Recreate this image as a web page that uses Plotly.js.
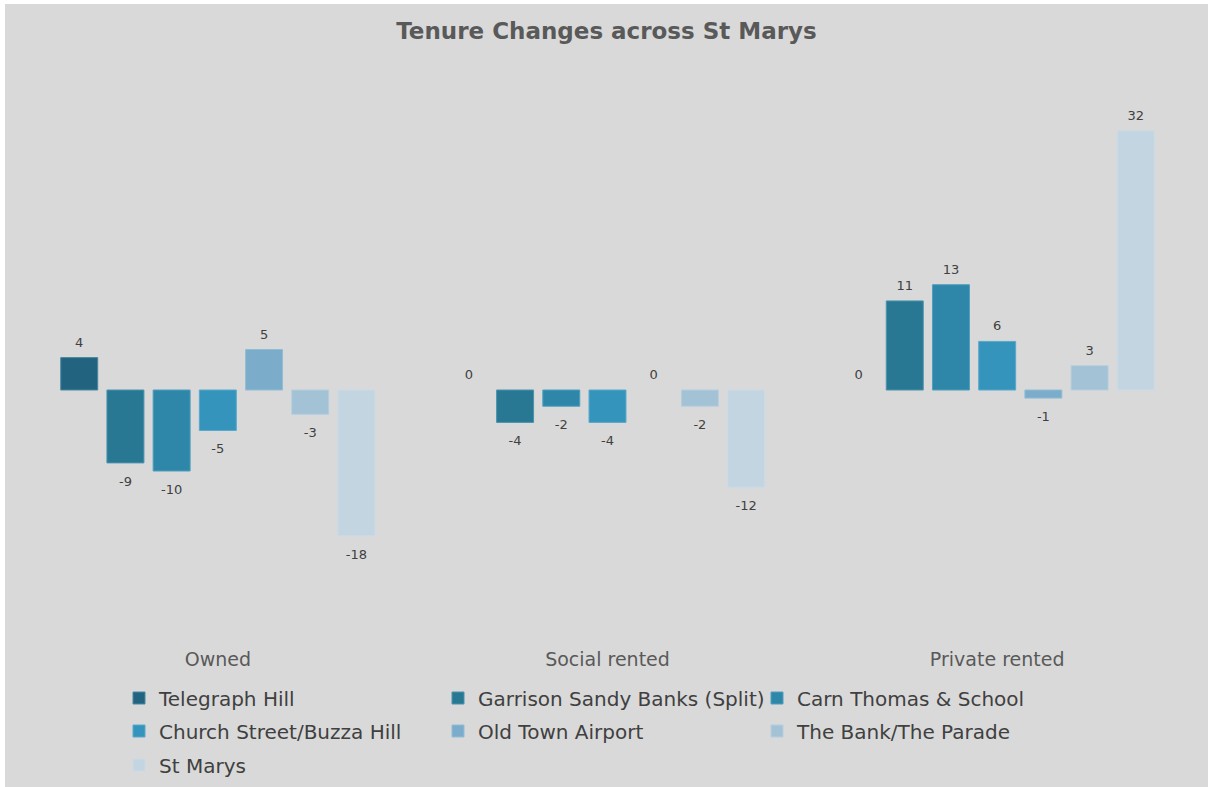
<!DOCTYPE html>
<html>
<head>
<meta charset="utf-8">
<script src="https://cdn.plot.ly/plotly-3.0.1.min.js"></script>
<style>
  html, body { margin: 0; padding: 0; background: #ffffff; }
  #chart { position: absolute; left: 5px; top: 4px; width: 1203px; height: 783px; }
</style>
</head>
<body>
<div id="chart"></div>
<script>
// Data
const categories = ["Owned", "Social rented", "Private rented"];
const seriesNames = [
  "Telegraph Hill",
  "Garrison Sandy Banks (Split)",
  "Carn Thomas & School",
  "Church Street/Buzza Hill",
  "Old Town Airport",
  "The Bank/The Parade",
  "St Marys"
];
const telegraphHill   = [4, 0, 0];
const garrisonSandy   = [-9, -4, 11];
const carnThomas      = [-10, -2, 13];
const churchStreet    = [-5, -4, 6];
const oldTownAirport  = [5, 0, -1];
const theBankParade   = [-3, -2, 3];
const stMarys         = [-18, -12, 32];
const seriesValues = [telegraphHill, garrisonSandy, carnThomas, churchStreet, oldTownAirport, theBankParade, stMarys];

// Styles
const colors = ["#22647F", "#287894", "#2E87A8", "#3594BC", "#7BADCB", "#A3C2D6", "#C3D5E1"];
const lineColors = ["#4A86A0", "#4B93AC", "#4F9FBE", "#5AA8CB", "#93BDD6", "#B5CFDF", "#CBDBE6"];
const font = "DejaVu Sans, Verdana, sans-serif";
const legendFor = i => (i < 3 ? "legend" : (i < 6 ? "legend2" : "legend3"));

const barTraces = seriesNames.map((name, i) => ({
  type: "bar",
  name: name,
  legend: legendFor(i),
  offsetgroup: "g" + i,
  x: categories,
  y: seriesValues[i],
  marker: {
    color: colors[i],
    line: { color: lineColors[i], width: seriesValues[i].map(v => (v === 0 ? 0 : 1)) }
  },
  hoverinfo: "x+y+name"
}));

// data labels drawn as grouped text points at each bar's value
const labelTraces = seriesNames.map((name, i) => ({
  type: "scatter",
  mode: "markers+text",
  name: name + " labels",
  showlegend: false,
  offsetgroup: "g" + i,
  x: categories,
  y: seriesValues[i],
  text: seriesValues[i].map(v => String(v)),
  textposition: seriesValues[i].map(v => (v >= 0 ? "top center" : "bottom center")),
  marker: { size: seriesValues[i].map(v => (v >= 0 ? 10.7 : 19.2)), opacity: 0, color: colors[i] },
  textfont: { family: font, size: 13, color: "#404040" },
  cliponaxis: false,
  hoverinfo: "skip"
}));

const legendBase = {
  orientation: "h",
  xref: "container", yref: "container",
  x: 114 / 1203, xanchor: "left",
  yanchor: "middle",
  entrywidth: 274, entrywidthmode: "pixels",
  itemwidth: 30,
  bgcolor: "rgba(0,0,0,0)",
  font: { family: font, size: 20, color: "#404040" },
  traceorder: "normal"
};

const layout = {
  width: 1203,
  height: 783,
  paper_bgcolor: "#D9D9D9",
  plot_bgcolor: "#D9D9D9",
  margin: { l: 18, r: 16, t: 80, b: 163 },
  title: {
    text: "<b>Tenure Changes across St Marys</b>",
    font: { family: font, size: 23, color: "#595959" },
    x: 0.5, xref: "container", xanchor: "center",
    y: 1 - 27 / 783, yref: "container", yanchor: "middle"
  },
  barmode: "group",
  bargap: 0.17,
  bargroupgap: 0.2,
  scattermode: "group",
  scattergap: 0.17,
  xaxis: {
    showgrid: false, zeroline: false, showline: false,
    ticks: "", ticklabelstandoff: 22,
    tickfont: { family: font, size: 19, color: "#595959" }
  },
  yaxis: {
    range: [-28.89, 37.78],
    showgrid: false, zeroline: false, showline: false,
    showticklabels: false, ticks: ""
  },
  showlegend: true,
  legend: Object.assign({}, legendBase, { y: 1 - 694 / 783 }),
  legend2: Object.assign({}, legendBase, { y: 1 - 727 / 783 }),
  legend3: Object.assign({}, legendBase, { y: 1 - 761 / 783 })
};

Plotly.newPlot("chart", barTraces.concat(labelTraces), layout, { displayModeBar: false, staticPlot: true });
</script>
</body>
</html>
